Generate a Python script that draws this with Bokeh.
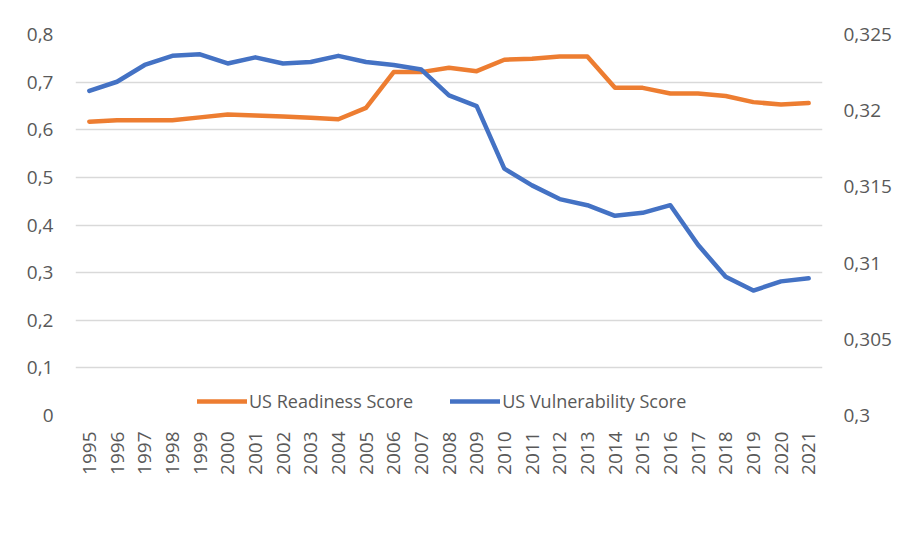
from bokeh.plotting import figure
from bokeh.models import (FactorRange, Range1d, LinearAxis, FixedTicker,
                          CustomJSTickFormatter, Legend, LegendItem, ColumnDataSource)
from bokeh.embed import file_html
from bokeh.resources import INLINE
import math

years = [str(y) for y in range(1995, 2022)]
readiness = [0.617, 0.620, 0.620, 0.620, 0.626, 0.632, 0.630, 0.628, 0.625, 0.622,
             0.646, 0.721, 0.721, 0.730, 0.723, 0.747, 0.749, 0.754, 0.754, 0.688,
             0.688, 0.676, 0.676, 0.671, 0.658, 0.653, 0.656]
vulnerability = [0.3213, 0.3219, 0.3230, 0.3236, 0.3237, 0.3231, 0.3235, 0.3231, 0.3232,
                 0.3236, 0.3232, 0.3230, 0.3227, 0.3210, 0.3203, 0.3162, 0.3151, 0.3142,
                 0.3138, 0.3131, 0.3133, 0.3138, 0.3112, 0.3091, 0.3082, 0.3088, 0.3090]
left_ticks = [0, 0.1, 0.2, 0.3, 0.4, 0.5, 0.6, 0.7, 0.8]
right_ticks = [0.3, 0.305, 0.31, 0.315, 0.32, 0.325]

FONT = "Open Sans"
TXT = "#595959"
GRID = "#d9d9d9"

src = ColumnDataSource(dict(year=years, r=readiness, v=vulnerability))

p = figure(frame_width=747, frame_height=381, output_backend="svg", toolbar_location=None,
           x_range=FactorRange(factors=years), y_range=Range1d(0, 0.8),
           min_border_left=75, min_border_right=78, min_border_top=34, min_border_bottom=0)
p.extra_y_ranges = {"right": Range1d(0.3, 0.325)}
p.outline_line_color = None
p.background_fill_color = "white"
p.border_fill_color = "white"

p.yaxis.ticker = FixedTicker(ticks=left_ticks)
p.yaxis.formatter = CustomJSTickFormatter(code="return String(tick).replace('.', ',');")
raxis = LinearAxis(y_range_name="right", ticker=FixedTicker(ticks=right_ticks),
                   formatter=CustomJSTickFormatter(code="return String(tick).replace('.', ',');"))
p.add_layout(raxis, "right")

for ax, so in [(p.yaxis[0], 16), (raxis, 15)]:
    ax.axis_line_color = None
    ax.major_tick_line_color = None
    ax.minor_tick_line_color = None
    ax.major_label_text_font = FONT
    ax.major_label_text_font_size = "19px"
    ax.major_label_text_color = TXT
    ax.major_label_standoff = so

p.xaxis.axis_line_color = None
p.xaxis.major_tick_line_color = None
p.xaxis.major_label_orientation = math.pi / 2
p.xaxis.major_label_text_font = FONT
p.xaxis.major_label_text_font_size = "19px"
p.xaxis.major_label_text_color = TXT
p.xaxis.major_label_standoff = 10

p.xgrid.grid_line_color = None
p.ygrid.grid_line_color = GRID
p.ygrid.grid_line_width = 1.5

l1 = p.line("year", "r", source=src, line_color="#ED7D31", line_width=4.5,
            line_join="round", line_cap="round")
l2 = p.line("year", "v", source=src, y_range_name="right", line_color="#4472C4",
            line_width=4.5, line_join="round", line_cap="round")

legend = Legend(items=[LegendItem(label="US Readiness Score", renderers=[l1]),
                       LegendItem(label="US Vulnerability Score", renderers=[l2])],
                orientation="horizontal", location=(122, 2),
                label_text_font=FONT, label_text_font_size="18px", label_text_color=TXT,
                glyph_width=50, glyph_height=20, label_standoff=2, spacing=37,
                border_line_color=None, background_fill_alpha=0, margin=0, padding=0)
p.add_layout(legend)

open("out.html", "w").write(file_html(p, INLINE))
